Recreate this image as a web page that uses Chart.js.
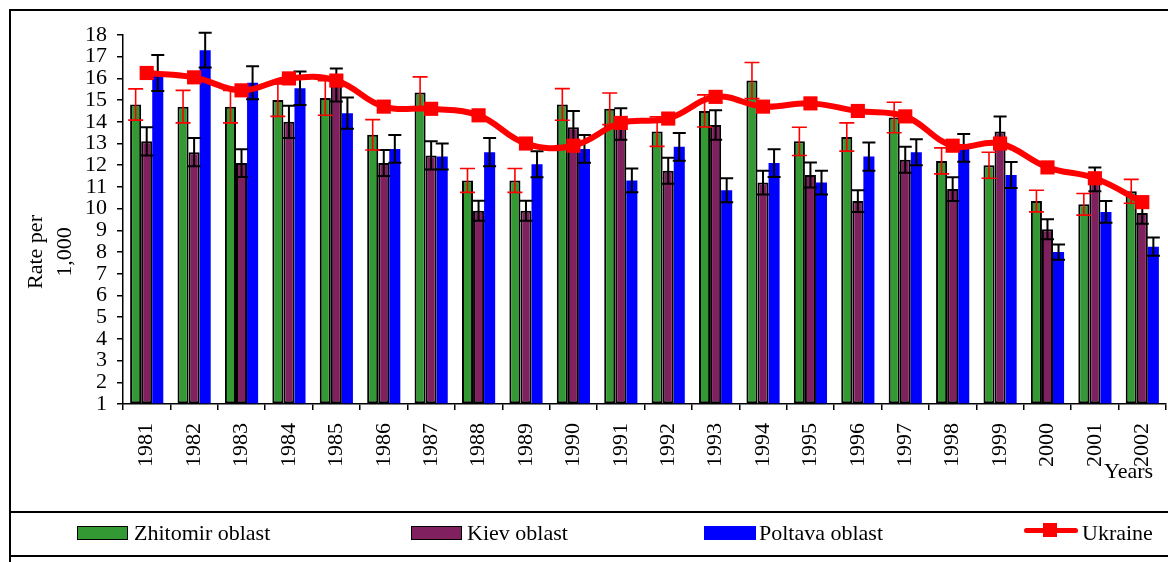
<!DOCTYPE html>
<html>
<head>
<meta charset="utf-8">
<script src="https://cdn.jsdelivr.net/npm/chart.js@4"></script>
<style>
  body { margin: 0; background: #fff; }
  #wrap { position: relative; width: 1168px; height: 562px; overflow: hidden; font-family: "Liberation Serif", "Times New Roman", serif; }
  #grafica { position: absolute; left: 0; top: 0; }
  .linea { position: absolute; background: #000; }
  .caja { position: absolute; box-sizing: border-box; }
  .txt { position: absolute; font-size: 22px; line-height: 26px; color: #000; white-space: nowrap; }
  .rot { position: absolute; font-size: 22px; color: #000; white-space: nowrap; transform: translate(-50%, -50%) rotate(-90deg); }
</style>
</head>
<body>
<div id="wrap">
  <canvas id="grafica" width="1168" height="562"></canvas>

  <!-- marco -->
  <div class="linea" style="left:9px;top:9px;width:1159px;height:2px;"></div>
  <div class="linea" style="left:9px;top:9px;width:2px;height:553px;"></div>
  <div class="linea" style="left:9px;top:511px;width:1159px;height:2px;"></div>
  <div class="linea" style="left:9px;top:555px;width:1159px;height:2px;"></div>

  <!-- titulo eje y -->
  <div class="rot" style="left:35px;top:252px;">Rate per</div>
  <div class="rot" style="left:64px;top:252px;">1,000</div>
  <div class="txt" style="left:1104px;top:458px;">Years</div>

  <!-- leyenda -->
  <div class="caja" style="left:77px;top:526px;width:51px;height:14px;background:#339933;border:1.5px solid #000;"></div>
  <div class="txt" style="left:134px;top:520px;">Zhitomir oblast</div>
  <div class="caja" style="left:411px;top:526px;width:51px;height:14px;background:#80205f;border:1.5px solid #000;"></div>
  <div class="txt" style="left:467px;top:520px;">Kiev oblast</div>
  <div class="caja" style="left:704px;top:526px;width:52px;height:14px;background:#0000ff;"></div>
  <div class="txt" style="left:759px;top:520px;">Poltava oblast</div>
  <div class="caja" style="left:1024px;top:528px;width:54px;height:5px;background:#ff0000;border-radius:3px;"></div>
  <div class="caja" style="left:1043px;top:523px;width:14px;height:14px;background:#ff0000;"></div>
  <div class="txt" style="left:1082px;top:520px;">Ukraine</div>
</div>

<script>
// categorias y datos
var years = ["1981","1982","1983","1984","1985","1986","1987","1988","1989","1990","1991",
             "1992","1993","1994","1995","1996","1997","1998","1999","2000","2001","2002"];

var zhitomir = [14.8,14.7,14.7,15.0,15.1,13.4,15.35,11.3,11.3,14.8,14.6,13.55,14.5,15.9,13.1,13.3,14.2,12.2,12.0,10.35,10.2,10.8];
var kiev     = [13.1,12.6,12.1,14.0,15.7,12.1,12.45,9.9,9.9,13.75,13.9,11.75,13.85,11.2,11.55,10.35,12.25,10.9,13.55,9.05,11.35,9.8];
var poltava  = [16.25,17.3,15.8,15.55,14.4,12.75,12.4,12.6,12.05,12.75,11.3,12.85,10.85,12.1,11.2,12.4,12.6,12.8,11.55,8.0,9.85,8.25];
var ukraine  = [16.25,16.05,15.45,16.0,15.9,14.7,14.6,14.3,13.0,12.9,13.95,14.15,15.15,14.7,14.85,14.5,14.25,12.9,13.0,11.9,11.4,10.3];

// errores (+/-)
var errZhitomir = [0.72,0.75,0.75,0.75,0.8,0.7,0.72,0.55,0.55,0.73,0.73,0.68,0.74,0.83,0.65,0.65,0.7,0.6,0.6,0.5,0.5,0.55];
var errKiev     = [0.65,0.65,0.64,0.74,0.76,0.6,0.65,0.46,0.46,0.75,0.73,0.6,0.68,0.55,0.58,0.5,0.6,0.55,0.7,0.46,0.55,0.5];
var errPoltava  = [0.83,0.8,0.76,0.77,0.72,0.64,0.6,0.65,0.6,0.64,0.55,0.64,0.55,0.64,0.55,0.65,0.6,0.64,0.6,0.35,0.5,0.42];

// barras de error, se dibujan despues de cada dataset de barras (antes de la linea)
var barrasError = {
  id: 'barrasError',
  afterDatasetDraw: function(chart, args){
    var ds = chart.data.datasets[args.index];
    if(!ds.errores) return;
    var ctx = chart.ctx;
    var escala = chart.scales.y;
    ctx.save();
    ctx.strokeStyle = ds.colorError;
    ctx.lineWidth = ds.anchoError;
    args.meta.data.forEach(function(barra, i){
      var v = ds.data[i], e = ds.errores[i];
      var arriba = escala.getPixelForValue(v + e);
      var abajo = escala.getPixelForValue(v - e);
      var x = barra.x, c = ds.capError;
      ctx.beginPath();
      ctx.moveTo(x, arriba); ctx.lineTo(x, abajo);
      ctx.moveTo(x - c, arriba); ctx.lineTo(x + c, arriba);
      ctx.moveTo(x - c, abajo); ctx.lineTo(x + c, abajo);
      ctx.stroke();
    });
    ctx.restore();
  }
};

var fuente = { family: "'Liberation Serif', 'Times New Roman', serif", size: 22 };

var contenedor = document.getElementById('grafica').getContext('2d');
var grafica = new Chart(contenedor, {
  type: 'bar',
  data: {
    labels: years,
    datasets: [
      {
        type: 'line',
        label: 'Ukraine',
        data: ukraine,
        order: 0,
        borderColor: '#ff0000',
        backgroundColor: '#ff0000',
        borderWidth: 6,
        tension: 0.4,
        pointStyle: 'rect',
        pointRadius: 10,
        pointBorderWidth: 0,
        pointBackgroundColor: '#ff0000'
      },
      {
        label: 'Zhitomir oblast',
        data: zhitomir,
        order: 1,
        base: 1,
        backgroundColor: '#339933',
        borderColor: '#000',
        borderWidth: 2,
        borderSkipped: false,
        errores: errZhitomir, colorError: '#ff0000', anchoError: 1.6, capError: 7.5
      },
      {
        label: 'Kiev oblast',
        data: kiev,
        order: 1,
        base: 1,
        backgroundColor: '#80205f',
        borderColor: '#000',
        borderWidth: 2,
        borderSkipped: false,
        errores: errKiev, colorError: '#000', anchoError: 2, capError: 6.5
      },
      {
        label: 'Poltava oblast',
        data: poltava,
        order: 1,
        base: 1,
        backgroundColor: '#0000ff',
        borderWidth: 0,
        errores: errPoltava, colorError: '#000', anchoError: 2, capError: 6.5
      }
    ]
  },
  options: {
    responsive: false,
    devicePixelRatio: 1,
    animation: false,
    layout: { autoPadding: false, padding: { left: 0, top: 35, right: 2, bottom: 0 } },
    datasets: { bar: { categoryPercentage: 0.7, barPercentage: 1.0 } },
    plugins: { legend: { display: false }, tooltip: { enabled: false } },
    scales: {
      x: {
        grid: { drawOnChartArea: false, color: '#000', lineWidth: 1.5, tickLength: 6 },
        border: { color: '#000', width: 1.5 },
        ticks: { color: '#000', font: fuente, minRotation: 90, maxRotation: 90, autoSkip: false, padding: 13 },
        afterFit: function(s){ s.height = 158; s.paddingLeft = 0; s.paddingRight = 0; }
      },
      y: {
        min: 1,
        max: 18,
        grid: { drawOnChartArea: false, color: '#000', lineWidth: 1.5, tickLength: 6 },
        border: { color: '#000', width: 1.5 },
        ticks: { color: '#000', font: fuente, stepSize: 1, autoSkip: false, padding: 10 },
        afterFit: function(s){ s.width = 123; s.paddingTop = 0; s.paddingBottom = 0; }
      }
    }
  },
  plugins: [barrasError]
});
</script>
</body>
</html>
